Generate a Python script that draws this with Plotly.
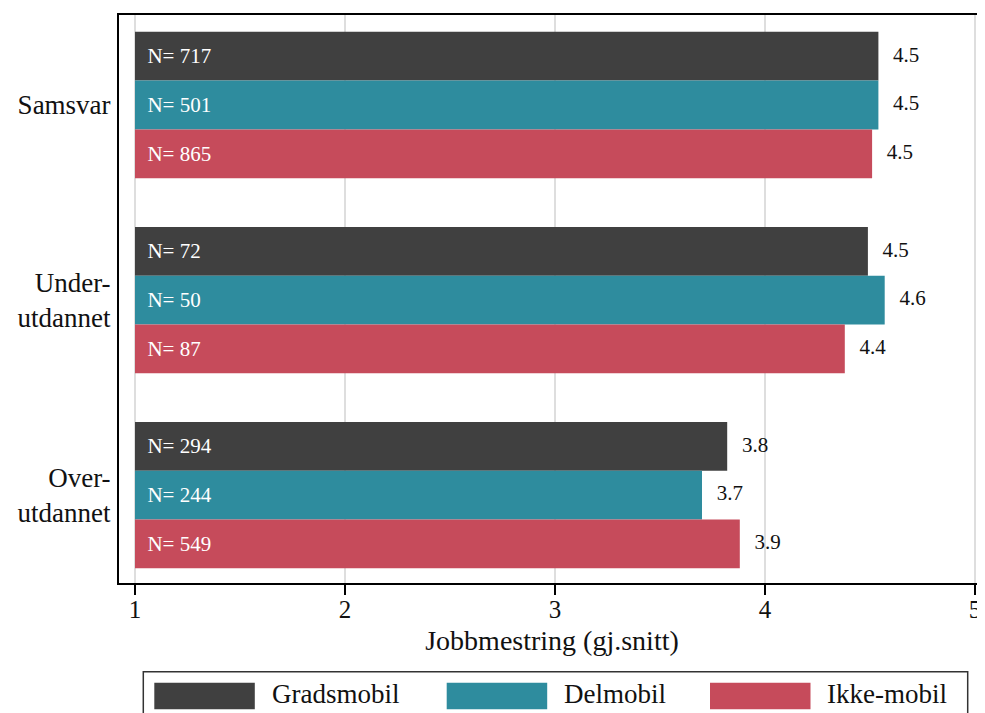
import plotly.graph_objects as go

categories = ["Samsvar", "Under-<br>utdannet", "Over-<br>utdannet"]
series_names = ["Gradsmobil", "Delmobil", "Ikke-mobil"]
gradsmobil = [4.54, 4.49, 3.82]
delmobil = [4.54, 4.57, 3.70]
ikke_mobil = [4.51, 4.38, 3.88]
n_gradsmobil = [717, 72, 294]
n_delmobil = [501, 50, 244]
n_ikke_mobil = [865, 87, 549]
x_ticks = [1, 2, 3, 4, 5]

colors = ["#404040", "#2e8c9e", "#c64b5b"]
FONT = "Liberation Serif"
PAGE_OFF = 8  # default body margin of the html page
W, H = 977, 740
ML, MR, MT, MB = 111, 0, 7, 165
BASE = 1
BAR_W = 0.25
offsets = [-0.25, 0.0, 0.25]

values = [gradsmobil, delmobil, ikke_mobil]
ns = [n_gradsmobil, n_delmobil, n_ikke_mobil]

fig = go.Figure()
nbsp = "\u00a0"
thin = "\u2009"
for s, name in enumerate(series_names):
    ys = [g + offsets[s] for g in range(len(categories))]
    fig.add_trace(go.Bar(
        orientation="h",
        y=ys,
        x=[v - BASE for v in values[s]],
        base=BASE,
        width=BAR_W,
        name=name,
        marker=dict(color=colors[s], line=dict(width=0)),
        text=[nbsp + thin + f"N= {n}" for n in ns[s]],
        textposition="inside",
        insidetextanchor="start",
        textangle=0,
        insidetextfont=dict(family=FONT, size=21, color="white"),
        showlegend=False,
        hoverinfo="skip",
    ))
    fig.add_trace(go.Scatter(
        x=values[s],
        y=ys,
        mode="text",
        text=[nbsp * 2 + thin + f"{v:.1f}" for v in values[s]],
        textposition="middle right",
        textfont=dict(family=FONT, size=21, color="#111111"),
        showlegend=False,
        cliponaxis=False,
        hoverinfo="skip",
    ))

pw = W - ML - MR
ph = H - MT - MB
def px_x(p):
    return (p - PAGE_OFF - ML) / pw
def px_y(p):
    return (H - MB - (p - PAGE_OFF)) / ph

shapes = [dict(type="rect", xref="paper", yref="paper",
               x0=px_x(143.3), x1=px_x(967.7), y0=px_y(671.7), y1=px_y(726),
               line=dict(color="#333333", width=1.5), fillcolor="rgba(0,0,0,0)")]
annotations = []
sw_left = [154.3, 446.7, 710.0]
txt_left = [270.0, 562.0, 825.0]
for i, name in enumerate(series_names):
    shapes.append(dict(type="rect", xref="paper", yref="paper",
                       x0=px_x(sw_left[i]), x1=px_x(sw_left[i] + 100.5),
                       y0=px_y(682.7), y1=px_y(709.3),
                       line=dict(width=0), fillcolor=colors[i]))
    annotations.append(dict(xref="paper", yref="paper", x=px_x(txt_left[i]), y=px_y(694),
                            text=name, showarrow=False, xanchor="left", yanchor="middle",
                            font=dict(family=FONT, size=27, color="#111111")))

x_left = 1 - 16 / 210
x_right = 1 + (W - MR - ML - 16) / 210

fig.update_layout(
    width=W, height=H,
    margin=dict(l=ML, r=MR, t=MT, b=MB),
    paper_bgcolor="white", plot_bgcolor="white",
    barmode="overlay",
    font=dict(family=FONT, color="#111111"),
    shapes=shapes,
    annotations=annotations,
    xaxis=dict(
        range=[x_left, x_right],
        tickvals=x_ticks,
        ticktext=[str(t) for t in x_ticks],
        showgrid=True, gridcolor="#dedede", gridwidth=2,
        zeroline=False,
        showline=True, linecolor="black", linewidth=2, mirror=True,
        ticks="outside", ticklen=10, tickwidth=1.5, tickcolor="black",
        ticklabelstandoff=-7,
        tickfont=dict(family=FONT, size=25, color="#111111"),
        title=dict(text="Jobbmestring (gj.snitt)", font=dict(family=FONT, size=28, color="#111111"), standoff=8),
    ),
    yaxis=dict(
        range=[2.451, -0.4615],
        tickvals=list(range(len(categories))),
        ticktext=categories,
        showgrid=False, zeroline=False,
        showline=True, linecolor="black", linewidth=2,
        ticks="",
        ticklabelstandoff=1,
        tickfont=dict(family=FONT, size=27, color="#111111"),
    ),
)

fig.write_html("out.html")
